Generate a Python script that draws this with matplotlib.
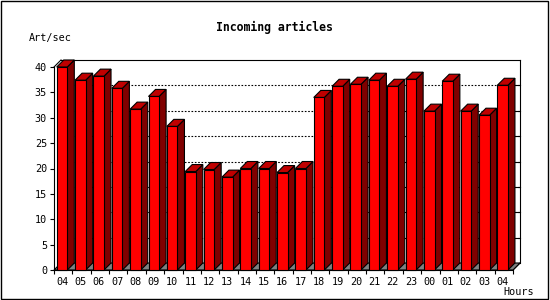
import matplotlib
matplotlib.use("Agg")
import matplotlib.pyplot as plt
from matplotlib.patches import Polygon, Rectangle

hours = ["04", "05", "06", "07", "08", "09", "10", "11", "12", "13", "14", "15", "16",
         "17", "18", "19", "20", "21", "22", "23", "00", "01", "02", "03", "04"]
values = [40.0, 37.4, 38.2, 35.8, 31.7, 34.2, 28.3, 19.4, 19.8, 18.3, 20.0, 20.0, 19.2,
          20.0, 34.0, 36.2, 36.6, 37.4, 36.2, 37.6, 31.3, 37.2, 31.3, 30.5, 36.4]
yticks = [0, 5, 10, 15, 20, 25, 30, 35, 40]
title = "Incoming articles"
ylabel = "Art/sec"
xlabel = "Hours"

W, H = 550, 300
fig = plt.figure(figsize=(W / 100, H / 100), dpi=100)
fig.patch.set_facecolor("white")

# front plane: x 54..513 px, y 270..67 px
x0, x1p, ybot, ytop = 54, 513, 270, 67
ax = fig.add_axes([x0 / W, (H - ybot) / H, (x1p - x0) / W, (ybot - ytop) / H])
n = len(values)
ymax = 40
ax.set_xlim(0, n)
ax.set_ylim(0, ymax)
ax.set_facecolor("none")

pxx = (x1p - x0) / n          # px per x unit
pxy = (ybot - ytop) / ymax    # px per y unit
depth = 7
dx = depth / pxx
dy = depth / pxy

lw = 0.8
mono = "DejaVu Sans Mono"

# spines
for s in ["top", "right"]:
    ax.spines[s].set_visible(False)
ax.spines["left"].set_linewidth(lw)
ax.spines["bottom"].set_linewidth(lw)

# y ticks
ax.set_yticks(yticks)
ax.set_yticklabels([str(t) for t in yticks], family=mono, fontsize=7.3)
ax.tick_params(axis="y", direction="out", length=3, width=lw, pad=2)

# x ticks: boundaries (major), labels (minor)
ax.set_xticks(range(n + 1))
ax.set_xticklabels([])
ax.tick_params(axis="x", which="major", direction="out", length=3, width=lw)
ax.set_xticks([i + 0.44 for i in range(n)], minor=True)
ax.set_xticklabels(hours, minor=True, family=mono, fontsize=7.3)
ax.tick_params(axis="x", which="minor", length=0, pad=5)

# back wall frame
ax.plot([dx, n + dx], [ymax + dy, ymax + dy], color="black", lw=lw, clip_on=False, zorder=1)
ax.plot([n + dx, n + dx], [dy, ymax + dy], color="black", lw=lw, clip_on=False, zorder=1)
ax.plot([0, dx], [ymax, ymax + dy], color="black", lw=lw, clip_on=False, zorder=1)
ax.plot([n, n + dx], [0, dy], color="black", lw=lw, clip_on=False, zorder=1)

# dotted grid on back wall + right ticks
tick_len = 4 / pxx
for t in yticks[1:-1]:
    ax.plot([dx, n + dx], [t + dy, t + dy], color="black", lw=lw,
            dashes=(1.5, 1.5), clip_on=False, zorder=1)
    ax.plot([n + dx - tick_len, n + dx], [t + dy, t + dy], color="black", lw=lw,
            clip_on=False, zorder=1)

# floor
ax.add_patch(Polygon([(0, 0), (n, 0), (n + dx, dy), (dx, dy)], closed=True,
                     facecolor="#808080", edgecolor="black", lw=lw, clip_on=False, zorder=2))

# bars
for i, v in enumerate(values):
    a = i + 2.7 / pxx
    b = i + 13.3 / pxx
    z = 3 + i * 0.01
    ax.add_patch(Polygon([(b, 0), (b + dx, dy), (b + dx, v + dy), (b, v)], closed=True,
                         facecolor="#800000", edgecolor="black", lw=lw, clip_on=False, zorder=z))
    ax.add_patch(Polygon([(a, v), (b, v), (b + dx, v + dy), (a + dx, v + dy)], closed=True,
                         facecolor="#c00000", edgecolor="black", lw=lw, clip_on=False, zorder=z))
    ax.add_patch(Polygon([(a, 0), (b, 0), (b, v), (a, v)], closed=True,
                         facecolor="#ff0000", edgecolor="black", lw=lw, clip_on=False, zorder=z))

# texts
fig.text(274 / W, 1 - 27 / H, title, ha="center", va="center", family=mono,
         fontweight="bold", fontsize=8.3)
fig.text(29 / W, 1 - 38 / H, ylabel, ha="left", va="center", family=mono, fontsize=7.3)
fig.text(534 / W, 1 - 292 / H, xlabel, ha="right", va="center", family=mono, fontsize=7.3)

# outer border
fig.add_artist(Rectangle((0.5 / W, 1 / H), 547 / W, 298.5 / H, transform=fig.transFigure,
                         fill=False, edgecolor="black", lw=1.0))

fig.savefig("out.png", dpi=100)
